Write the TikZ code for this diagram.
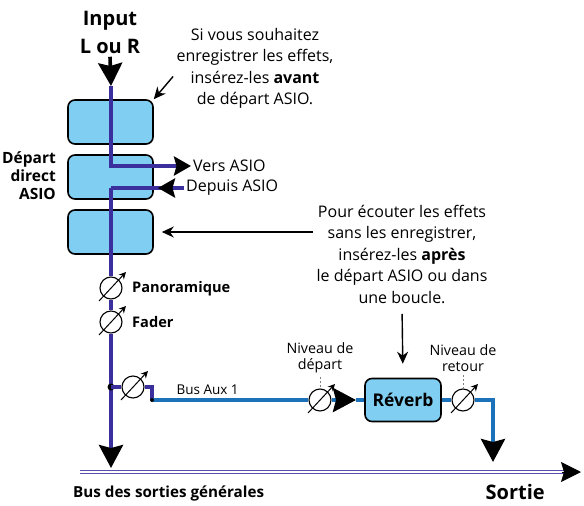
\documentclass[tikz,border=0pt]{standalone}
\usepackage{fontspec}
\setmainfont{Open Sans}
\usepackage{tikz}
\usetikzlibrary{calc}
\usetikzlibrary{arrows.meta}
\definecolor{sigpurple}{HTML}{3A2F9C}
\definecolor{auxblue}{HTML}{1B72BA}
\definecolor{boxblue}{HTML}{80CFF3}
\tikzset{
  sig/.style={draw=sigpurple, line width=3.6pt},
  auxline/.style={draw=auxblue, line width=3.8pt},
  bigtip/.style={-{Stealth[color=black,length=23pt,width=24pt,inset=3pt]}},
  midtip/.style={-{Stealth[color=black,length=17pt,width=19pt,inset=2.5pt]}},
  thinarrow/.style={black, line width=1.4pt, -{Stealth[length=12pt,width=11pt]}},
  blockbox/.style={draw, line width=1.6pt, rounded corners=7pt, fill=boxblue,
    minimum width=85pt, minimum height=44pt},
  pot/.style={circle, draw, fill=white, line width=1.1pt, minimum size=22pt, inner sep=0pt},
  potarrow/.style={line width=1pt, -{Stealth[length=7pt,width=7pt]}},
  note/.style={align=center, font=\fontsize{16}{21.5}\selectfont},
  lvl/.style={align=center, font=\fontsize{14.3}{16}\selectfont},
  tag/.style={font=\bfseries\fontsize{14.6}{16}\selectfont, inner sep=1pt},
  levelline/.style={gray, line width=0.9pt, dash pattern=on 2pt off 2pt},
}
\newcommand{\potar}[3]{\node[pot] (#1) at ( #2 , #3 ) {};
  \draw[potarrow] ($(#1)+(-12,13)$) -- ($(#1)+(15,-16)$);}

\begin{document}
\begin{tikzpicture}[x=1pt,y=-1pt]
        \useasboundingbox (0,0) rectangle (584,506);

        % input and insert blocks
        \node[align=center, font=\bfseries\fontsize{20}{28}\selectfont] (input) at (110,32) {Input\\L ou R};
        \node[blockbox] (box1) at (110.5,122) {};
        \node[blockbox] (box2) at (110.5,177) {};
        \node[blockbox] (box3) at (110.5,232) {};
        \node[tag, align=right, anchor=east, font=\bfseries\fontsize{15.5}{18}\selectfont] (depart) at (57,176) {Départ\\direct\\ASIO};

        \coordinate (top) at (111,86);
        \coordinate (ret) at (111,188);
        \node[anchor=west, inner sep=2pt, font=\fontsize{16}{18}\selectfont] (vers) at (191,166) {Vers ASIO};
        \node[anchor=west, inner sep=2pt, font=\fontsize{16}{18}\selectfont] (depuis) at (184,188) {Depuis ASIO};

        \draw[sig, midtip] (top) |- (vers.west);
        \draw[sig] (depuis.west) -- (ret);
        \draw[sig, midtip] (depuis.west) -- (158,188);
        \draw[black, line width=3.6pt, bigtip] (input.south) -- (top);

        % notes
        \node[note] (note1) at (255,68.5) {Si vous souhaitez\\enregistrer les effets,\\insérez-les \textbf{avant}\\de départ ASIO.};
        \node[note] (note2) at (402,254) {Pour écouter les effets\\sans les enregistrer,\\insérez-les \textbf{après}\\le départ ASIO ou dans\\une boucle.};

        % pots
        \potar{pan}{111}{288}
        \potar{fad}{111}{322}
        \potar{auxpot}{133}{387}
        \potar{sendpot}{320}{400}
        \potar{retpot}{463}{400}
        \node[tag, anchor=west] (panlbl) at (131,289) {Panoramique};
        \node[tag, anchor=west] (fadlbl) at (131,322) {Fader};

        \node[blockbox, minimum width=76pt, minimum height=43pt, font=\bfseries\fontsize{17.5}{18}\selectfont] (rev) at (403,400) {Réverb};
        \node[lvl] (lvlsend) at (320,358) {Niveau de\\départ};
        \node[lvl] (lvlret) at (463,358) {Niveau de\\retour};
        \node[anchor=west, font=\fontsize{13.5}{15}\selectfont] (auxlbl) at (173,390) {Bus Aux 1};

        % main signal
        \coordinate (aux) at (111,387);
        \coordinate (auxc) at (152,400);
        \coordinate (busin) at (111,468);
        \coordinate (sendtip) at (356,400);
        \coordinate (retdown) at (493,462);
        \draw[sig] (ret) -- (pan) -- (fad) -- (aux);
        \draw[sig, bigtip] (aux) -- (busin);
        \fill (aux) circle (3.5pt);
        \draw[sig] (aux) -- (auxpot) -| (auxc);
        \draw[auxline] (auxc) -- (sendpot);
        \fill (auxc) circle (2pt);
        \draw[auxline, bigtip] (sendpot) -- (sendtip);
        \draw[auxline] (sendtip) -- (rev);
        \draw[auxline] (rev) -- (retpot);
        \draw[auxline, bigtip] (retpot) -| (retdown);
        \draw[levelline] (lvlsend) -- (sendpot);
        \draw[levelline] (lvlret) -- (retpot);

        % annotation arrows
        \draw[thinarrow] ([yshift=-8pt]note1.west) -- (box1.north east);
        \draw[thinarrow, shorten >=8pt] (note2.west |- box3.east) -- (box3.east);
        \draw[thinarrow, shorten <=7pt, shorten >=14pt] (note2.south) -- (rev.north);

        % output bus
        \coordinate (busL) at (80,472);
        \coordinate (busR) at (581,472);
        \draw[draw=sigpurple!85, double=white, double distance=2.2pt, line width=1.1pt, shorten >=12pt] (busL) -- (busR);
        \draw[black, line width=1pt, -{Stealth[length=20pt,width=20pt,inset=3pt]}] ([xshift=-19pt]busR) -- (busR);
        \node[tag, anchor=west, font=\bfseries\fontsize{15.2}{17}\selectfont] (busname) at (72,493) {Bus des sorties générales};
        \node[anchor=east, inner sep=1pt, font=\bfseries\fontsize{20}{22}\selectfont] (sortie) at (546,492) {Sortie};
\end{tikzpicture}
\end{document}
